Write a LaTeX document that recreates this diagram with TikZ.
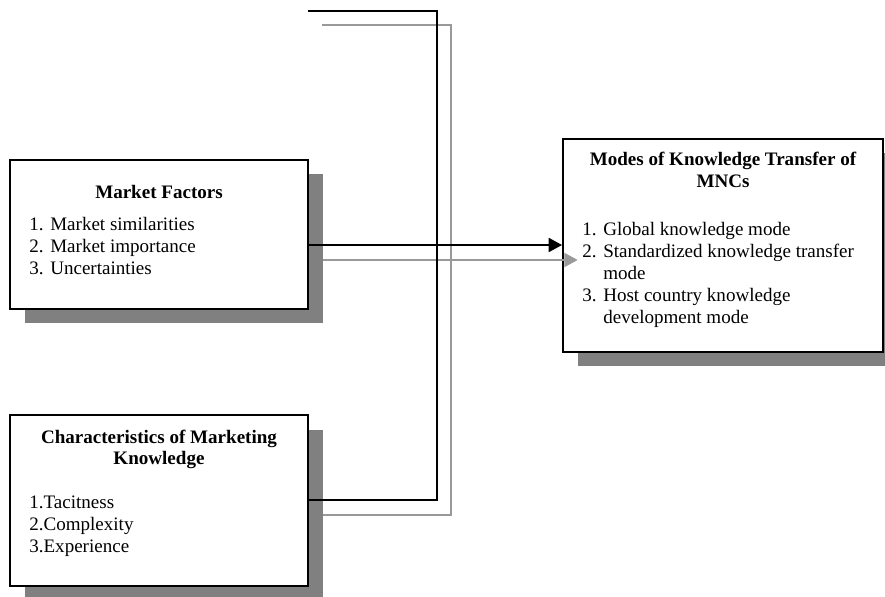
\documentclass[tikz,border=0pt]{standalone}
\usepackage{fontspec}
\setmainfont{Liberation Serif}
\usetikzlibrary{arrows.meta}

\tikzset{
  box/.style={draw=black,line width=1.2pt,fill=white,inner sep=0pt},
  shadebox/.style={fill=gray,inner sep=0pt},
  mfsize/.style={minimum width=187.7pt,minimum height=93.9pt},
  cksize/.style={minimum width=187.7pt,minimum height=107.7pt},
  mksize/.style={minimum width=201.6pt,minimum height=134.2pt},
  txt/.style={anchor=base west,inner sep=0pt,font=\fontsize{12}{13.9}\selectfont},
  ttl/.style={anchor=base,inner sep=0pt,font=\fontsize{12}{13.9}\selectfont\bfseries},
  blackline/.style={line width=1.2pt,color=black},
  grayline/.style={line width=1.2pt,color=black!40}
}

\begin{document}
\begin{tikzpicture}[line join=miter,>={Triangle[length=8.4pt,width=8.8pt]},x=0.63pt,y=-0.63pt]
      \useasboundingbox (0,0) rectangle (885,596);
      % shadows
      \node[shadebox,mfsize] (mfs) at (174,248.5) {};
      \node[shadebox,cksize] (cks) at (174,515.5) {};
      \node[shadebox,mksize] (mks) at (738,259.5) {};
      % boxes
      \node[box,mfsize] (mf) at (159,234.5) {};
      \node[box,cksize] (ck) at (159,500.5) {};
      \node[box,mksize] (mk) at (723,245.5) {};
      % market factors
      \node[ttl] (mft) at (159,198) {Market Factors};
      \foreach \t [count=\i] in {Market similarities,Market importance,Uncertainties}
      \node[txt] (mf\i) at (29,208+22*\i) {\makebox[13.2pt][l]{\i.}\t};
      % characteristics
      \node[ttl] (ckt) at (159,443) {Characteristics of Marketing};
      \node[ttl] (ckk) at (159,464) {Knowledge};
      \foreach \t [count=\i] in {Tacitness,Complexity,Experience}
      \node[txt] (ck\i) at (29,486+22*\i) {\i.\t};
      % modes
      \node[ttl] (mkt) at (723,165) {Modes of Knowledge Transfer of};
      \node[ttl] (mkm) at (723,187) {MNCs};
      \node[txt] (mk1) at (582,235) {\makebox[13.2pt][l]{1.}Global knowledge mode};
      \node[txt] (mk2) at (582,257) {\makebox[13.2pt][l]{2.}Standardized knowledge transfer};
      \node[txt] (mk2b) at (603,279) {mode};
      \node[txt] (mk3) at (582,301) {\makebox[13.2pt][l]{3.}Host country knowledge};
      \node[txt] (mk3b) at (603,323) {development mode};
      % connectors
      \coordinate (topg) at (322,25);
      \coordinate (jg) at (451,515);
      \coordinate (ag) at (451,260);
      \draw[grayline] (topg) -| (jg) -- (jg -| cks.east);
      \draw[grayline,->] (ag -| mfs.east) -- (ag -| mks.west);
      \coordinate (topb) at (308,11);
      \coordinate (jb) at (437,500);
      \coordinate (ab) at (437,245);
      \draw[blackline] (topb) -| (jb) -- (jb -| ck.east);
      \draw[blackline,->] (ab -| mf.east) -- (ab -| mk.west);
\end{tikzpicture}
\end{document}
